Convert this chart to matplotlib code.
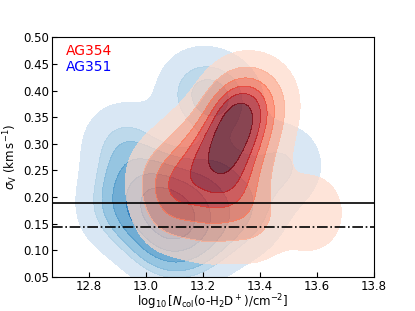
import numpy as np
import matplotlib
matplotlib.use("Agg")
import matplotlib.pyplot as plt

# sample points (log10 N_col, sigma_v)
ag351_logn = [13.06, 13.10, 13.04, 13.02, 13.08, 13.12, 12.98, 13.15,
              12.92, 12.90, 13.22, 13.25, 13.27, 13.48, 13.35, 13.18]
ag351_sigma = [0.13, 0.15, 0.17, 0.20, 0.20, 0.11, 0.23, 0.18,
               0.30, 0.18, 0.14, 0.25, 0.38, 0.26, 0.17, 0.40]

ag354_logn = [13.27, 13.29, 13.31, 13.33, 13.35, 13.27, 13.21, 13.34, 13.38,
              13.28, 13.12, 13.16, 13.08, 13.05, 13.22, 13.38, 13.58, 13.42]
ag354_sigma = [0.30, 0.33, 0.35, 0.37, 0.38, 0.28, 0.24, 0.23, 0.30,
               0.21, 0.22, 0.29, 0.17, 0.24, 0.15, 0.15, 0.17, 0.38]

sigma_line = 0.188
sigma_dashdot = 0.144


def kde(px, py, hx, hy, gx, gy):
    z = np.zeros_like(gx)
    for x, y in zip(px, py):
        z += np.exp(-0.5 * ((gx - x) / hx) ** 2 - 0.5 * ((gy - y) / hy) ** 2)
    return z / z.sum()


def iso_levels(z, n=7, thresh=0.05):
    vals = np.sort(z.ravel())
    cum = np.cumsum(vals) / vals.sum()
    q = np.linspace(thresh, 1, n)
    idx = np.searchsorted(cum, q)
    lev = np.take(vals, idx, mode="clip")
    lev[-1] = vals[-1] * 1.01
    return lev


gx, gy = np.meshgrid(np.linspace(12.3, 14.1, 300), np.linspace(-0.1, 0.7, 300))

fig, ax = plt.subplots(figsize=(4.15, 3.11), dpi=100)

zb = kde(ag351_logn, ag351_sigma, 0.09, 0.05, gx, gy)
ax.contourf(gx, gy, zb, levels=iso_levels(zb),
            colors=plt.cm.Blues(np.linspace(0.2, 0.85, 6)), alpha=0.8)

zr = kde(ag354_logn, ag354_sigma, 0.075, 0.048, gx, gy)
ax.contourf(gx, gy, zr, levels=iso_levels(zr),
            colors=plt.cm.Reds(np.linspace(0.15, 1.0, 6)), alpha=0.7)

ax.axhline(sigma_line, color="black", lw=1.2)
ax.axhline(sigma_dashdot, color="black", lw=1.2, ls="-.")

ax.text(12.72, 0.466, "AG354", color="red", fontsize=10)
ax.text(12.72, 0.436, "AG351", color="blue", fontsize=10)

ax.set_xlim(12.67, 13.8)
ax.set_ylim(0.05, 0.50)
ax.set_xticks([12.8, 13.0, 13.2, 13.4, 13.6, 13.8])
ax.set_yticks(np.arange(0.05, 0.501, 0.05))
ax.tick_params(direction="in", labelsize=8.5, pad=2)
ax.set_xlabel(r"$\log_{10}[N_{\rm col}({\rm o}$-${\rm H_2D^+})/{\rm cm^{-2}}]$",
              fontsize=8.5, labelpad=0)
ax.set_ylabel(r"$\sigma_{\rm V}$ (km$\,$s$^{-1}$)", fontsize=8.5, labelpad=2)

fig.savefig("out.png", dpi=100)
